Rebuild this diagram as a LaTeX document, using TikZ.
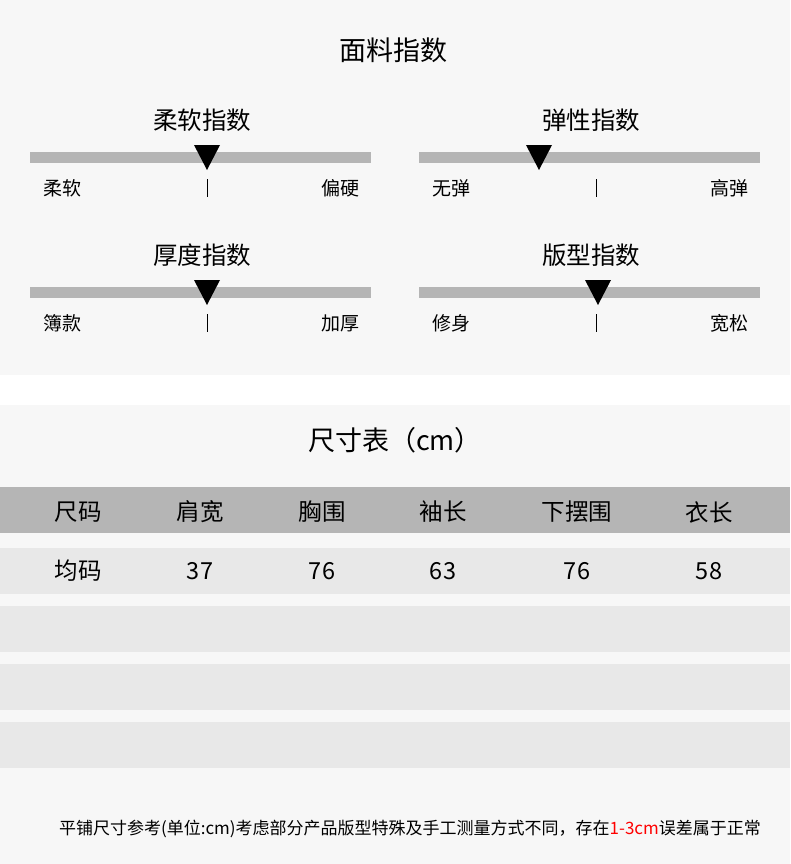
\documentclass[tikz,border=0pt]{standalone}
\usepackage{fontspec}
\setmainfont{Noto Sans CJK SC}
\definecolor{pagebg}{HTML}{F7F7F7}
\definecolor{bargray}{HTML}{B5B5B5}
\definecolor{rowgray}{HTML}{E8E8E8}
\begin{document}
\begin{tikzpicture}[x=1pt,y=-1pt,
    title/.style={font=\fontsize{27}{30}\selectfont},
    ititle/.style={font=\fontsize{24.5}{28}\selectfont},
    lbl/.style={font=\fontsize{19}{22}\selectfont},
    cell/.style={font=\fontsize{23.5}{27}\selectfont},
    note/.style={font=\fontsize{17}{20}\selectfont},
    bar/.style={fill=bargray, draw=none},
    marker/.style={fill=black, draw=none}
    ]
\useasboundingbox (0,0) rectangle (790,864);
\fill[pagebg] (0,0) rectangle (790,375);
\fill[white] (0,375) rectangle (790,405);
\fill[pagebg] (0,405) rectangle (790,864);

\node[title] (fabric) at (393,50) {面料指数};

% sliders: x0, y, title, left, right, marker position
\foreach \name/\xa/\yb/\ttl/\lt/\rt/\mk in {
    soft/30/157/柔软指数/柔软/偏硬/207,
    elastic/419/157/弹性指数/无弹/高弹/539,
    thick/30/292/厚度指数/簿款/加厚/207,
    fit/419/292/版型指数/修身/宽松/598}{
  \fill[bar] (\xa,\yb-5) rectangle (\xa+341,\yb+6);
  \node[ititle] (\name-title) at (\xa+172,\yb-37) {\ttl};
  \node[lbl, anchor=west] (\name-left) at (\xa+10,\yb+31) {\lt};
  \node[lbl, anchor=east] (\name-right) at (\xa+333,\yb+31) {\rt};
  \draw[thick] (\xa+177,\yb+22) -- (\xa+177,\yb+40);
  \fill[marker] (\mk-13,\yb-12) -- (\mk+13,\yb-12) -- (\mk,\yb+13) -- cycle;
}

\node[title] (sizes) at (395,440) {尺寸表（cm）};

% table bands
\fill[bargray] (0,487) rectangle (790,533);
\foreach \y in {548,606,664,722}
  \fill[rowgray] (0,\y) rectangle (790,\y+46);

\foreach \x/\h/\v [count=\i] in {78/尺码/均码, 200/肩宽/37, 322/胸围/76,
    443/袖长/63, 577/下摆围/76, 709/衣长/58}{
  \node[cell] (head-\i) at (\x,512) {\h};
  \node[cell] (val-\i) at (\x,571) {\v};
}

\node[note] (footnote) at (410,829) {平铺尺寸参考(单位:cm)考虑部分产品版型特殊及手工测量方式不同，存在\textcolor{red}{1-3cm}误差属于正常};
\end{tikzpicture}
\end{document}
